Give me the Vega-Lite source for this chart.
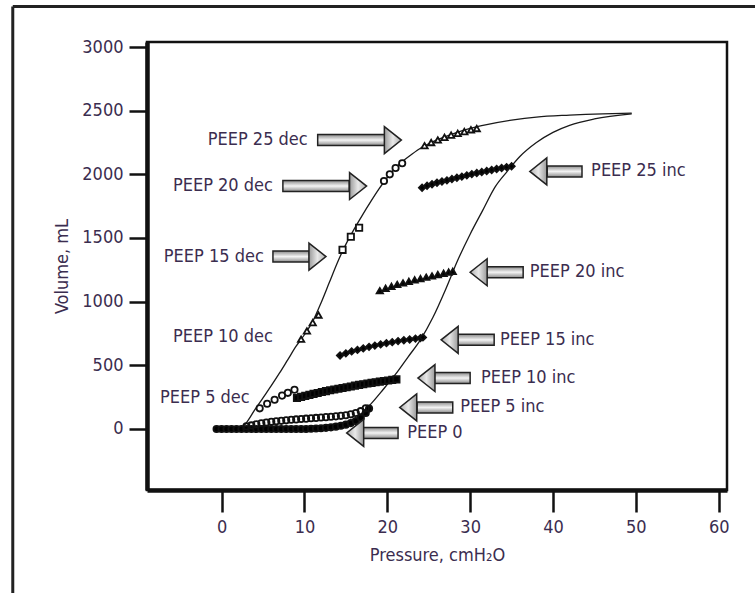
{
  "$schema": "https://vega.github.io/schema/vega-lite/v6.json",
  "width": 580,
  "height": 448,
  "autosize": "none",
  "padding": {"left": 147, "top": 42, "right": 28, "bottom": 103},
  "background": "white",
  "config": {
    "view": {"stroke": "#111", "strokeWidth": 2.5},
    "font": "DejaVu Sans Condensed, DejaVu Sans",
    "axis": {
      "grid": false,
      "domainColor": "#111",
      "domainWidth": 4.5,
      "tickColor": "#111",
      "tickWidth": 2.5,
      "labelFont": "DejaVu Sans Condensed, DejaVu Sans",
      "labelFontSize": 18,
      "labelColor": "#3b2d4f",
      "titleFont": "DejaVu Sans Condensed, DejaVu Sans",
      "titleFontSize": 18,
      "titleFontWeight": "normal",
      "titleColor": "#3b2d4f"
    }
  },
  "datasets": {
    "frame": [{"edge": "outer"}],
    "curves": [
      {"curve": "dec", "p": 2.3, "v": 0}, {"curve": "dec", "p": 3, "v": 50}, {"curve": "dec", "p": 4, "v": 150},
      {"curve": "dec", "p": 5, "v": 245}, {"curve": "dec", "p": 6, "v": 340}, {"curve": "dec", "p": 7, "v": 440},
      {"curve": "dec", "p": 8, "v": 545}, {"curve": "dec", "p": 9, "v": 650}, {"curve": "dec", "p": 10, "v": 740},
      {"curve": "dec", "p": 11, "v": 845}, {"curve": "dec", "p": 12, "v": 990}, {"curve": "dec", "p": 13, "v": 1150},
      {"curve": "dec", "p": 14, "v": 1310}, {"curve": "dec", "p": 15, "v": 1450}, {"curve": "dec", "p": 16, "v": 1570},
      {"curve": "dec", "p": 17, "v": 1680}, {"curve": "dec", "p": 18, "v": 1785}, {"curve": "dec", "p": 19, "v": 1885},
      {"curve": "dec", "p": 20, "v": 1975}, {"curve": "dec", "p": 21, "v": 2050}, {"curve": "dec", "p": 22, "v": 2110},
      {"curve": "dec", "p": 23, "v": 2160}, {"curve": "dec", "p": 24, "v": 2205}, {"curve": "dec", "p": 25, "v": 2240},
      {"curve": "dec", "p": 26, "v": 2270}, {"curve": "dec", "p": 28, "v": 2320}, {"curve": "dec", "p": 30, "v": 2360},
      {"curve": "dec", "p": 32, "v": 2390}, {"curve": "dec", "p": 35, "v": 2425}, {"curve": "dec", "p": 38, "v": 2450},
      {"curve": "dec", "p": 42, "v": 2465}, {"curve": "dec", "p": 46, "v": 2475}, {"curve": "dec", "p": 49.5, "v": 2480},
      {"curve": "inc", "p": 16.8, "v": 115}, {"curve": "inc", "p": 18, "v": 195}, {"curve": "inc", "p": 19.5, "v": 310},
      {"curve": "inc", "p": 21, "v": 430}, {"curve": "inc", "p": 22.5, "v": 565}, {"curve": "inc", "p": 24, "v": 700},
      {"curve": "inc", "p": 25.5, "v": 875}, {"curve": "inc", "p": 27, "v": 1090}, {"curve": "inc", "p": 28.5, "v": 1325},
      {"curve": "inc", "p": 30, "v": 1530}, {"curve": "inc", "p": 31.5, "v": 1715}, {"curve": "inc", "p": 33, "v": 1900},
      {"curve": "inc", "p": 34.5, "v": 2025}, {"curve": "inc", "p": 36, "v": 2140}, {"curve": "inc", "p": 38, "v": 2250},
      {"curve": "inc", "p": 40, "v": 2330}, {"curve": "inc", "p": 42, "v": 2385}, {"curve": "inc", "p": 45, "v": 2435},
      {"curve": "inc", "p": 49.5, "v": 2475}
    ],
    "pts": [
      {"s": "PEEP 0", "p": -0.6, "v": 0}, {"s": "PEEP 0", "p": 0, "v": 0}, {"s": "PEEP 0", "p": 0.6, "v": 0},
      {"s": "PEEP 0", "p": 1.2, "v": 0}, {"s": "PEEP 0", "p": 1.8, "v": 0}, {"s": "PEEP 0", "p": 2.4, "v": 0},
      {"s": "PEEP 0", "p": 3.0, "v": 0}, {"s": "PEEP 0", "p": 3.6, "v": 0}, {"s": "PEEP 0", "p": 4.2, "v": 0},
      {"s": "PEEP 0", "p": 4.8, "v": 0}, {"s": "PEEP 0", "p": 5.4, "v": 0}, {"s": "PEEP 0", "p": 6.0, "v": 0},
      {"s": "PEEP 0", "p": 6.6, "v": 0}, {"s": "PEEP 0", "p": 7.2, "v": 0}, {"s": "PEEP 0", "p": 7.8, "v": 0},
      {"s": "PEEP 0", "p": 8.4, "v": 0}, {"s": "PEEP 0", "p": 9.0, "v": 0}, {"s": "PEEP 0", "p": 9.6, "v": 0},
      {"s": "PEEP 0", "p": 10.2, "v": 0}, {"s": "PEEP 0", "p": 10.8, "v": 2}, {"s": "PEEP 0", "p": 11.4, "v": 4},
      {"s": "PEEP 0", "p": 12.0, "v": 6}, {"s": "PEEP 0", "p": 12.6, "v": 9}, {"s": "PEEP 0", "p": 13.2, "v": 13},
      {"s": "PEEP 0", "p": 13.8, "v": 18}, {"s": "PEEP 0", "p": 14.4, "v": 25}, {"s": "PEEP 0", "p": 15.0, "v": 34},
      {"s": "PEEP 0", "p": 15.6, "v": 46}, {"s": "PEEP 0", "p": 16.2, "v": 62}, {"s": "PEEP 0", "p": 16.8, "v": 88},
      {"s": "PEEP 0", "p": 17.4, "v": 125}, {"s": "PEEP 0", "p": 17.8, "v": 160},
      {"s": "PEEP 5 inc", "p": 3.0, "v": 20}, {"s": "PEEP 5 inc", "p": 3.6, "v": 28}, {"s": "PEEP 5 inc", "p": 4.2, "v": 37},
      {"s": "PEEP 5 inc", "p": 4.8, "v": 45}, {"s": "PEEP 5 inc", "p": 5.4, "v": 51}, {"s": "PEEP 5 inc", "p": 6.0, "v": 56},
      {"s": "PEEP 5 inc", "p": 6.6, "v": 60}, {"s": "PEEP 5 inc", "p": 7.2, "v": 64}, {"s": "PEEP 5 inc", "p": 7.8, "v": 68},
      {"s": "PEEP 5 inc", "p": 8.4, "v": 72}, {"s": "PEEP 5 inc", "p": 9.0, "v": 75}, {"s": "PEEP 5 inc", "p": 9.6, "v": 78},
      {"s": "PEEP 5 inc", "p": 10.2, "v": 81}, {"s": "PEEP 5 inc", "p": 10.8, "v": 84}, {"s": "PEEP 5 inc", "p": 11.4, "v": 87},
      {"s": "PEEP 5 inc", "p": 12.0, "v": 90}, {"s": "PEEP 5 inc", "p": 12.6, "v": 93}, {"s": "PEEP 5 inc", "p": 13.2, "v": 96},
      {"s": "PEEP 5 inc", "p": 13.8, "v": 99}, {"s": "PEEP 5 inc", "p": 14.4, "v": 103}, {"s": "PEEP 5 inc", "p": 15.0, "v": 108},
      {"s": "PEEP 5 inc", "p": 15.6, "v": 115}, {"s": "PEEP 5 inc", "p": 16.2, "v": 125}, {"s": "PEEP 5 inc", "p": 16.8, "v": 140},
      {"s": "PEEP 5 inc", "p": 17.4, "v": 162},
      {"s": "PEEP 10 inc", "p": 9.1, "v": 243}, {"s": "PEEP 10 inc", "p": 9.6, "v": 252}, {"s": "PEEP 10 inc", "p": 10.1, "v": 260},
      {"s": "PEEP 10 inc", "p": 10.6, "v": 268}, {"s": "PEEP 10 inc", "p": 11.1, "v": 276}, {"s": "PEEP 10 inc", "p": 11.6, "v": 283},
      {"s": "PEEP 10 inc", "p": 12.1, "v": 290}, {"s": "PEEP 10 inc", "p": 12.6, "v": 297}, {"s": "PEEP 10 inc", "p": 13.1, "v": 304},
      {"s": "PEEP 10 inc", "p": 13.6, "v": 310}, {"s": "PEEP 10 inc", "p": 14.1, "v": 316}, {"s": "PEEP 10 inc", "p": 14.6, "v": 322},
      {"s": "PEEP 10 inc", "p": 15.1, "v": 328}, {"s": "PEEP 10 inc", "p": 15.6, "v": 334}, {"s": "PEEP 10 inc", "p": 16.1, "v": 340},
      {"s": "PEEP 10 inc", "p": 16.6, "v": 346}, {"s": "PEEP 10 inc", "p": 17.1, "v": 351}, {"s": "PEEP 10 inc", "p": 17.6, "v": 357},
      {"s": "PEEP 10 inc", "p": 18.1, "v": 362}, {"s": "PEEP 10 inc", "p": 18.6, "v": 367}, {"s": "PEEP 10 inc", "p": 19.1, "v": 372},
      {"s": "PEEP 10 inc", "p": 19.6, "v": 377}, {"s": "PEEP 10 inc", "p": 20.1, "v": 381}, {"s": "PEEP 10 inc", "p": 20.6, "v": 386},
      {"s": "PEEP 10 inc", "p": 21.1, "v": 390},
      {"s": "PEEP 15 inc", "p": 14.3, "v": 577}, {"s": "PEEP 15 inc", "p": 15.0, "v": 594}, {"s": "PEEP 15 inc", "p": 15.7, "v": 609},
      {"s": "PEEP 15 inc", "p": 16.4, "v": 621}, {"s": "PEEP 15 inc", "p": 17.1, "v": 633}, {"s": "PEEP 15 inc", "p": 17.8, "v": 645},
      {"s": "PEEP 15 inc", "p": 18.5, "v": 655}, {"s": "PEEP 15 inc", "p": 19.2, "v": 664}, {"s": "PEEP 15 inc", "p": 19.9, "v": 674},
      {"s": "PEEP 15 inc", "p": 20.6, "v": 682}, {"s": "PEEP 15 inc", "p": 21.3, "v": 690}, {"s": "PEEP 15 inc", "p": 22.0, "v": 697},
      {"s": "PEEP 15 inc", "p": 22.7, "v": 703}, {"s": "PEEP 15 inc", "p": 23.4, "v": 710}, {"s": "PEEP 15 inc", "p": 24.0, "v": 714},
      {"s": "PEEP 15 inc", "p": 24.3, "v": 719},
      {"s": "PEEP 20 inc", "p": 19.1, "v": 1086}, {"s": "PEEP 20 inc", "p": 19.8, "v": 1105}, {"s": "PEEP 20 inc", "p": 20.5, "v": 1120},
      {"s": "PEEP 20 inc", "p": 21.2, "v": 1135}, {"s": "PEEP 20 inc", "p": 21.9, "v": 1147}, {"s": "PEEP 20 inc", "p": 22.6, "v": 1159},
      {"s": "PEEP 20 inc", "p": 23.3, "v": 1171}, {"s": "PEEP 20 inc", "p": 24.0, "v": 1181}, {"s": "PEEP 20 inc", "p": 24.7, "v": 1192},
      {"s": "PEEP 20 inc", "p": 25.4, "v": 1202}, {"s": "PEEP 20 inc", "p": 26.1, "v": 1213}, {"s": "PEEP 20 inc", "p": 26.8, "v": 1223},
      {"s": "PEEP 20 inc", "p": 27.4, "v": 1232}, {"s": "PEEP 20 inc", "p": 27.9, "v": 1238},
      {"s": "PEEP 25 inc", "p": 24.2, "v": 1895}, {"s": "PEEP 25 inc", "p": 24.8, "v": 1910}, {"s": "PEEP 25 inc", "p": 25.4, "v": 1922},
      {"s": "PEEP 25 inc", "p": 26.0, "v": 1934}, {"s": "PEEP 25 inc", "p": 26.6, "v": 1944}, {"s": "PEEP 25 inc", "p": 27.2, "v": 1953},
      {"s": "PEEP 25 inc", "p": 27.8, "v": 1963}, {"s": "PEEP 25 inc", "p": 28.4, "v": 1973}, {"s": "PEEP 25 inc", "p": 29.0, "v": 1982},
      {"s": "PEEP 25 inc", "p": 29.6, "v": 1992}, {"s": "PEEP 25 inc", "p": 30.2, "v": 2002}, {"s": "PEEP 25 inc", "p": 30.8, "v": 2010},
      {"s": "PEEP 25 inc", "p": 31.4, "v": 2018}, {"s": "PEEP 25 inc", "p": 32.0, "v": 2026}, {"s": "PEEP 25 inc", "p": 32.6, "v": 2034},
      {"s": "PEEP 25 inc", "p": 33.2, "v": 2042}, {"s": "PEEP 25 inc", "p": 33.8, "v": 2050}, {"s": "PEEP 25 inc", "p": 34.4, "v": 2057},
      {"s": "PEEP 25 inc", "p": 35.0, "v": 2063},
      {"s": "PEEP 5 dec", "p": 4.6, "v": 162}, {"s": "PEEP 5 dec", "p": 5.5, "v": 198}, {"s": "PEEP 5 dec", "p": 6.4, "v": 230},
      {"s": "PEEP 5 dec", "p": 7.3, "v": 262}, {"s": "PEEP 5 dec", "p": 8.0, "v": 284}, {"s": "PEEP 5 dec", "p": 8.8, "v": 308},
      {"s": "PEEP 10 dec", "p": 9.6, "v": 705}, {"s": "PEEP 10 dec", "p": 10.3, "v": 770}, {"s": "PEEP 10 dec", "p": 11.0, "v": 835},
      {"s": "PEEP 10 dec", "p": 11.7, "v": 895},
      {"s": "PEEP 15 dec", "p": 14.6, "v": 1407}, {"s": "PEEP 15 dec", "p": 15.6, "v": 1510}, {"s": "PEEP 15 dec", "p": 16.6, "v": 1580},
      {"s": "PEEP 20 dec", "p": 19.6, "v": 1948}, {"s": "PEEP 20 dec", "p": 20.3, "v": 2000}, {"s": "PEEP 20 dec", "p": 21.0, "v": 2050},
      {"s": "PEEP 20 dec", "p": 21.8, "v": 2087},
      {"s": "PEEP 25 dec", "p": 24.5, "v": 2225}, {"s": "PEEP 25 dec", "p": 25.3, "v": 2250}, {"s": "PEEP 25 dec", "p": 26.1, "v": 2270},
      {"s": "PEEP 25 dec", "p": 26.9, "v": 2290}, {"s": "PEEP 25 dec", "p": 27.7, "v": 2308}, {"s": "PEEP 25 dec", "p": 28.5, "v": 2322},
      {"s": "PEEP 25 dec", "p": 29.3, "v": 2336}, {"s": "PEEP 25 dec", "p": 30.1, "v": 2350}, {"s": "PEEP 25 dec", "p": 30.8, "v": 2360}
    ],
    "arrows": [
      {"name": "PEEP 25 dec", "dir": "right", "tail": 11.6, "neck": 19.7, "tip": 21.7, "v": 2269},
      {"name": "PEEP 20 dec", "dir": "right", "tail": 7.4, "neck": 15.4, "tip": 17.5, "v": 1908},
      {"name": "PEEP 15 dec", "dir": "right", "tail": 6.2, "neck": 10.6, "tip": 12.6, "v": 1354},
      {"name": "PEEP 25 inc", "dir": "left", "tail": 43.5, "neck": 39.3, "tip": 37.2, "v": 2023},
      {"name": "PEEP 20 inc", "dir": "left", "tail": 36.4, "neck": 32.0, "tip": 30.0, "v": 1231},
      {"name": "PEEP 15 inc", "dir": "left", "tail": 32.9, "neck": 28.5, "tip": 26.5, "v": 700},
      {"name": "PEEP 10 inc", "dir": "left", "tail": 30.0, "neck": 25.7, "tip": 23.7, "v": 400},
      {"name": "PEEP 5 inc", "dir": "left", "tail": 27.9, "neck": 23.6, "tip": 21.5, "v": 169},
      {"name": "PEEP 0", "dir": "left", "tail": 21.3, "neck": 17.1, "tip": 15.1, "v": -31}
    ],
    "labels": [
      {"text": "PEEP 25 dec", "p": 10.4, "v": 2269, "side": "right"},
      {"text": "PEEP 20 dec", "p": 6.2, "v": 1908, "side": "right"},
      {"text": "PEEP 15 dec", "p": 5.1, "v": 1354, "side": "right"},
      {"text": "PEEP 10 dec", "p": 6.2, "v": 723, "side": "right"},
      {"text": "PEEP 5 dec", "p": 3.4, "v": 246, "side": "right"},
      {"text": "PEEP 25 inc", "p": 44.6, "v": 2023, "side": "left"},
      {"text": "PEEP 20 inc", "p": 37.2, "v": 1231, "side": "left"},
      {"text": "PEEP 15 inc", "p": 33.6, "v": 700, "side": "left"},
      {"text": "PEEP 10 inc", "p": 31.3, "v": 400, "side": "left"},
      {"text": "PEEP 5 inc", "p": 28.8, "v": 169, "side": "left"},
      {"text": "PEEP 0", "p": 22.4, "v": -31, "side": "left"}
    ]
  },
  "layer": [
    {
      "data": {"name": "curves"},
      "mark": {"type": "line", "stroke": "#1a1a1a", "strokeWidth": 1.3, "interpolate": "monotone"},
      "encoding": {
        "x": {"field": "p", "type": "quantitative",
          "scale": {"domain": [-9, 61], "nice": false, "zero": false},
          "axis": {"values": [0, 10, 20, 30, 40, 50, 60], "format": "d", "tickSize": 22, "labelPadding": 6, "title": "Pressure, cmH₂O", "titlePadding": 10}},
        "y": {"field": "v", "type": "quantitative",
          "scale": {"domain": [-440, 3000], "nice": false, "zero": false},
          "axis": {"values": [0, 500, 1000, 1500, 2000, 2500, 3000], "format": "d", "tickSize": 18, "labelPadding": 6, "title": "Volume, mL", "titlePadding": 10}},
        "detail": {"field": "curve"}
      }
    },
    {
      "data": {"name": "frame"},
      "mark": {"type": "rule", "stroke": "#222", "strokeWidth": 3, "clip": false},
      "encoding": {
        "x": {"datum": -25.2, "type": "quantitative"},
        "y": {"datum": -1400, "type": "quantitative"},
        "y2": {"datum": 3318}
      }
    },
    {
      "data": {"name": "frame"},
      "mark": {"type": "rule", "stroke": "#222", "strokeWidth": 3, "clip": false},
      "encoding": {
        "x": {"datum": -25.2, "type": "quantitative"},
        "x2": {"datum": 70},
        "y": {"datum": 3318, "type": "quantitative"}
      }
    },
    {
      "data": {"name": "pts"},
      "mark": {"type": "point", "filled": true, "opacity": 1, "stroke": "#111", "strokeWidth": 1.8},
      "encoding": {
        "x": {"field": "p", "type": "quantitative"},
        "y": {"field": "v", "type": "quantitative"},
        "shape": {"field": "s", "type": "nominal", "legend": null,
          "scale": {"domain": ["PEEP 0", "PEEP 5 inc", "PEEP 10 inc", "PEEP 15 inc", "PEEP 20 inc", "PEEP 25 inc", "PEEP 5 dec", "PEEP 10 dec", "PEEP 15 dec", "PEEP 20 dec", "PEEP 25 dec"],
            "range": ["circle", "circle", "square", "diamond", "triangle-up", "diamond", "circle", "triangle-up", "square", "circle", "triangle-up"]}},
        "fill": {"field": "s", "type": "nominal", "legend": null,
          "scale": {"domain": ["PEEP 0", "PEEP 5 inc", "PEEP 10 inc", "PEEP 15 inc", "PEEP 20 inc", "PEEP 25 inc", "PEEP 5 dec", "PEEP 10 dec", "PEEP 15 dec", "PEEP 20 dec", "PEEP 25 dec"],
            "range": ["#000000", "transparent", "#000000", "#000000", "#000000", "#000000", "white", "white", "white", "white", "white"]}},
        "size": {"field": "s", "type": "nominal", "legend": null,
          "scale": {"domain": ["PEEP 0", "PEEP 5 inc", "PEEP 10 inc", "PEEP 15 inc", "PEEP 20 inc", "PEEP 25 inc", "PEEP 5 dec", "PEEP 10 dec", "PEEP 15 dec", "PEEP 20 dec", "PEEP 25 dec"],
            "range": [40, 40, 165, 100, 85, 110, 45, 40, 110, 45, 40]}}
      }
    },
    {
      "data": {"name": "arrows"},
      "mark": {"type": "bar", "orient": "horizontal", "size": 11, "stroke": "#222", "strokeWidth": 1.5,
        "fill": {"gradient": "linear", "x1": 0, "y1": 0, "x2": 0, "y2": 1,
          "stops": [{"offset": 0, "color": "#8a8a8a"}, {"offset": 0.5, "color": "#f4f4f4"}, {"offset": 1, "color": "#8a8a8a"}]}},
      "encoding": {
        "x": {"field": "tail", "type": "quantitative"},
        "x2": {"field": "neck"},
        "y": {"field": "v", "type": "quantitative"}
      }
    },
    {
      "data": {"name": "arrows"},
      "transform": [{"filter": "datum.dir === 'right'"}],
      "mark": {"type": "point", "filled": true, "opacity": 1, "size": 729,
        "shape": "M -1.26 -1 L 0 0 L -1.26 1 Z", "stroke": "#222", "strokeWidth": 1.5,
        "fill": {"gradient": "linear", "x1": 0, "y1": 0, "x2": 1, "y2": 0,
          "stops": [{"offset": 0, "color": "#9a9a9a"}, {"offset": 0.5, "color": "#e8e8e8"}, {"offset": 1, "color": "#b0b0b0"}]}},
      "encoding": {
        "x": {"field": "tip", "type": "quantitative"},
        "y": {"field": "v", "type": "quantitative"}
      }
    },
    {
      "data": {"name": "arrows"},
      "transform": [{"filter": "datum.dir === 'left'"}],
      "mark": {"type": "point", "filled": true, "opacity": 1, "size": 729,
        "shape": "M 1.26 -1 L 0 0 L 1.26 1 Z", "stroke": "#222", "strokeWidth": 1.5,
        "fill": {"gradient": "linear", "x1": 0, "y1": 0, "x2": 1, "y2": 0,
          "stops": [{"offset": 0, "color": "#b0b0b0"}, {"offset": 0.5, "color": "#e8e8e8"}, {"offset": 1, "color": "#9a9a9a"}]}},
      "encoding": {
        "x": {"field": "tip", "type": "quantitative"},
        "y": {"field": "v", "type": "quantitative"}
      }
    },
    {
      "data": {"name": "labels"},
      "transform": [{"filter": "datum.side === 'right'"}],
      "mark": {"type": "text", "align": "right", "baseline": "middle", "fontSize": 18, "color": "#3b2d4f", "font": "DejaVu Sans Condensed, DejaVu Sans"},
      "encoding": {
        "x": {"field": "p", "type": "quantitative"},
        "y": {"field": "v", "type": "quantitative"},
        "text": {"field": "text"}
      }
    },
    {
      "data": {"name": "labels"},
      "transform": [{"filter": "datum.side === 'left'"}],
      "mark": {"type": "text", "align": "left", "baseline": "middle", "fontSize": 18, "color": "#3b2d4f", "font": "DejaVu Sans Condensed, DejaVu Sans"},
      "encoding": {
        "x": {"field": "p", "type": "quantitative"},
        "y": {"field": "v", "type": "quantitative"},
        "text": {"field": "text"}
      }
    }
  ]
}
